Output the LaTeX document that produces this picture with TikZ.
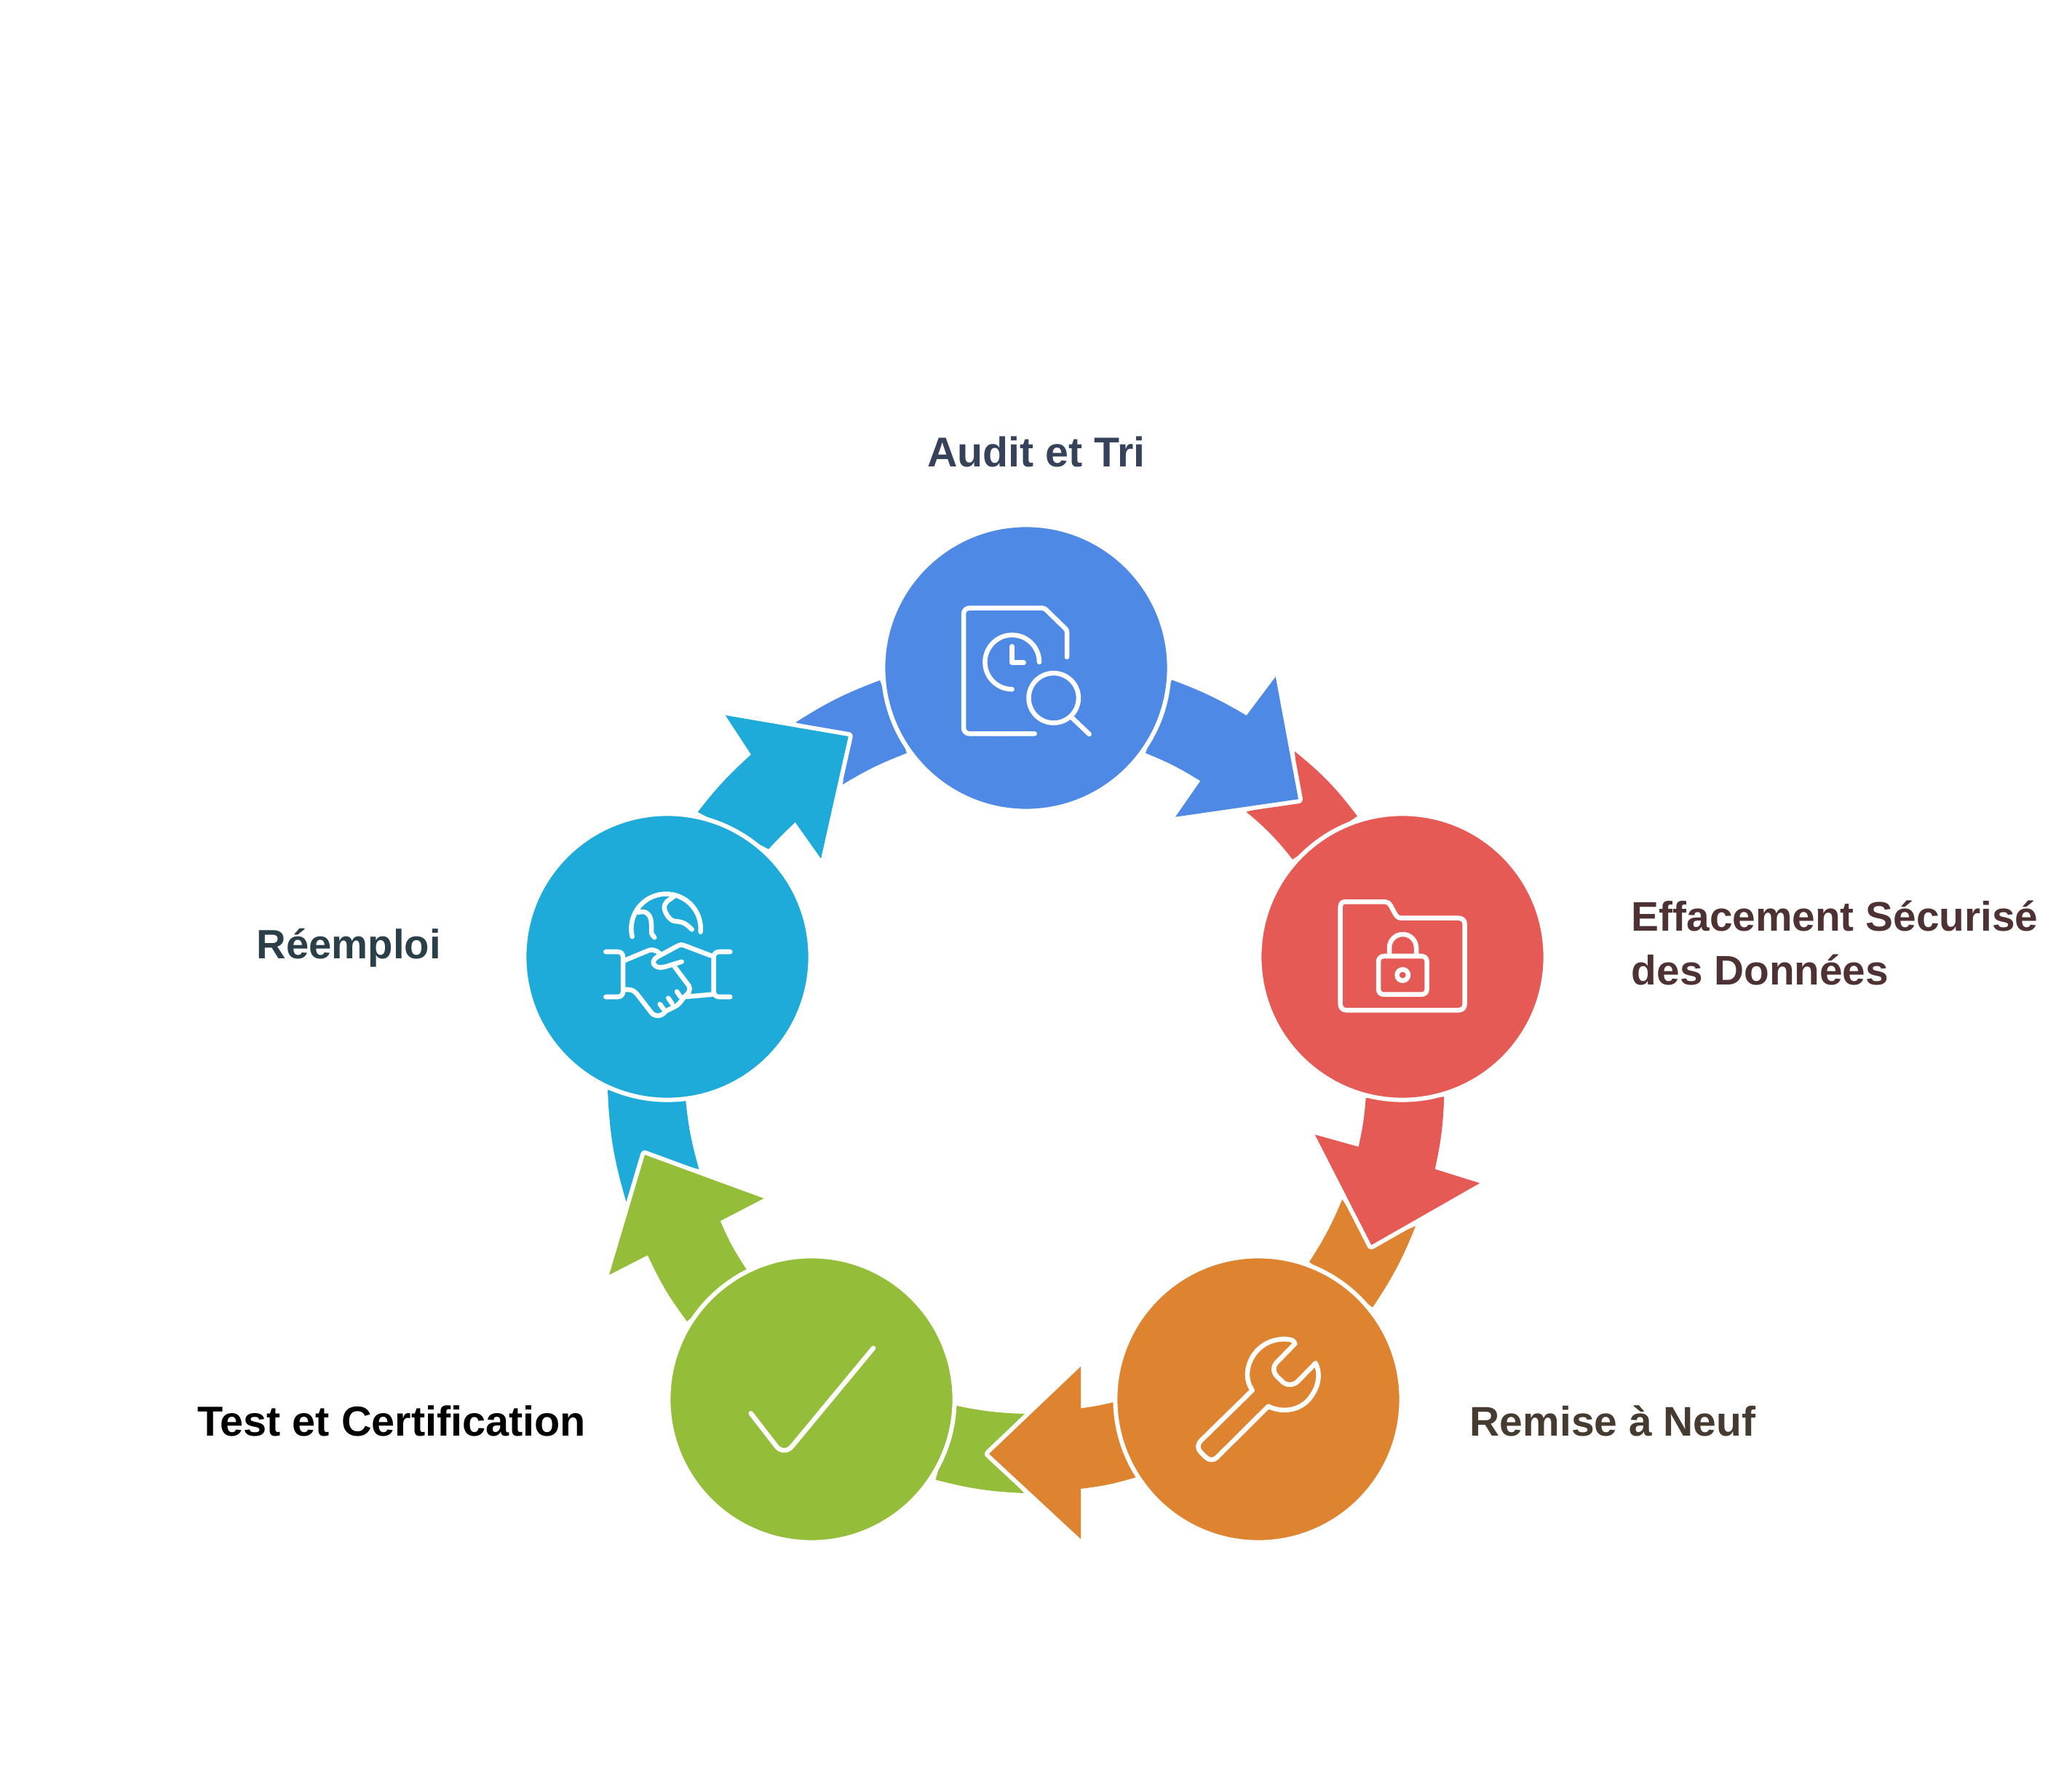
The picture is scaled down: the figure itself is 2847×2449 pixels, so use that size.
\documentclass[tikz,border=0pt]{standalone}
\usepackage{fontspec}
\setmainfont{Liberation Sans}
\definecolor{cblue}{HTML}{4F89E6}
\definecolor{cred}{HTML}{E65A55}
\definecolor{corange}{HTML}{DE8430}
\definecolor{cgreen}{HTML}{94BD3A}
\definecolor{ccyan}{HTML}{1FABDA}
\definecolor{tblue}{HTML}{36415A}
\definecolor{tred}{HTML}{4E3233}
\definecolor{torange}{HTML}{463B30}
\definecolor{tcyan}{HTML}{2B3F49}
\tikzset{
  disc/.style={circle,fill=#1,draw=white,line width=1.7pt,minimum size=3.93cm,inner sep=0pt},
  wedge/.style={fill=#1},
  arrowshape/.style={fill=#1,preaction={draw=white,line width=3.4pt,line join=round}},
  ic/.style={draw=white,line width=1.85pt,line cap=round,line join=round},
  lab/.style={inner sep=0pt,anchor=#1,align=left},
}
\newcommand{\labfont}[1]{\fontsize{#1}{20.8}\selectfont\bfseries}
\begin{document}
\begin{tikzpicture}[x=0.01cm,y=-0.01cm]
\useasboundingbox[fill=white] (0,0) rectangle (2847,2449);
% incoming wedges
\path[wedge=cred] (1779,1032.7) to[bend left=7] (1865,1121.7) -- (1776,1181) to[bend right=6] (1712.3,1115.7) -- (1784,1098) -- cycle;
\path[wedge=corange] (1945,1685) to[bend left=6] (1886,1796.7) -- (1799,1734.3) to[bend right=5] (1844.3,1648.3) -- (1884.3,1711) -- cycle;
\path[wedge=cgreen] (1407,2052) to[bend left=6] (1285.5,2033.6) -- (1314.6,1932) to[bend right=5] (1409,1943) -- (1359,1998) -- cycle;
\path[wedge=ccyan] (860.6,1652) to[bend left=7] (835,1498) -- (942,1511) to[bend right=5] (960.5,1607) -- (886,1587) -- cycle;
\path[wedge=cblue] (1093,993) to[bend left=6] (1209,935) -- (1246,1035) to[bend right=5] (1158,1078) -- (1165.7,1012) -- cycle;
% outgoing arrows
\path[arrowshape=cblue] (1610,934.3) to[bend left=5] (1712.7,983.3) -- (1752.7,930) -- (1784,1098.3) -- (1615,1122.7) -- (1649.3,1073.3) to[bend right=5] (1574,1035) -- cycle;
\path[arrowshape=cred] (1984.3,1507.3) to[bend left=5] (1971.7,1606.7) -- (2033.3,1626) -- (1884.3,1711) -- (1806.7,1559.3) -- (1866.7,1576) to[bend right=4] (1876.7,1509) -- cycle;
\path[arrowshape=corange] (1561.5,2030) to[bend left=5] (1485,2046) -- (1485,2115) -- (1359,1998) -- (1485,1878) -- (1485,1935.5) to[bend right=3] (1532,1926.5) -- cycle;
\path[arrowshape=cgreen] (944,1816) to[bend left=6] (890,1725) -- (837,1752) -- (886,1587) -- (1049.5,1647) -- (989.6,1678) to[bend right=5] (1026,1745) -- cycle;
\path[arrowshape=ccyan] (958.7,1116) to[bend left=5] (1032,1037) -- (996.7,983) -- (1165.7,1012) -- (1128,1180) -- (1092.7,1130) to[bend right=2] (1056,1167) -- cycle;
% discs
\node[disc=cblue] (audit) at (1410,918) {};
\node[disc=cred] (effacement) at (1927,1315) {};
\node[disc=corange] (remise) at (1729,1923) {};
\node[disc=cgreen] (test) at (1115,1923) {};
\node[disc=ccyan] (reemploi) at (917,1315) {};
% labels
\node[lab=center,text=tblue,font=\labfont{16.3}] (laudit) at (1424,621) {Audit et Tri};
\node[lab=west,text=tred,font=\labfont{16.15}] (leff) at (2241,1296) {Effacement Sécurisé\\des Données};
\node[lab=west,text=torange,font=\labfont{16.2}] (lrem) at (2019,1953) {Remise à Neuf};
\node[lab=west,text=black,font=\labfont{16.38}] (ltest) at (271,1953) {Test et Certification};
\node[lab=west,text=tcyan,font=\labfont{16}] (lree) at (352,1303) {Réemploi};
% document icon
\draw[ic] (1421.7,1008.3) -- (1332,1008.3) .. controls (1327.5,1008.3) and (1324,1005) .. (1324,1000) -- (1324,844) .. controls (1324,839) and (1327.5,835.7) .. (1332,835.7) -- (1433,835.7) .. controls (1434.5,835.7) and (1435.5,836.2) .. (1436.5,837.2) -- (1464,864) .. controls (1465.5,865.5) and (1466,867) .. (1466,869) -- (1466,903);
\draw[ic] (1428,910) arc[start angle=0,end angle=-270,radius=37.3];
\draw[ic] (1390.7,888.3) -- (1390.7,910.7) -- (1406.7,910.7);
\draw[ic] (1447.7,959.3) circle[radius=34.2];
\draw[ic] (1473.3,986.7) -- (1496.7,1009);
% folder and lock
\draw[ic] (1848,1239.3) -- (1903,1239.3) .. controls (1906,1239.3) and (1909,1241) .. (1910.5,1244) -- (1917,1256) .. controls (1919,1260) and (1922,1261.7) .. (1926,1261.7) -- (2004,1261.7) .. controls (2009,1261.7) and (2012.7,1265) .. (2012.7,1270) -- (2012.7,1380) .. controls (2012.7,1385) and (2009,1388.3) .. (2004,1388.3) -- (1850,1388.3) .. controls (1845,1388.3) and (1841.7,1385) .. (1841.7,1380) -- (1841.7,1247) .. controls (1841.7,1242) and (1844,1239.3) .. (1848,1239.3) -- cycle;
\draw[ic] (1902,1314) -- (1953,1314) .. controls (1957.5,1314) and (1960.7,1317) .. (1960.7,1322) -- (1960.7,1359) .. controls (1960.7,1364) and (1957.5,1366.7) .. (1953,1366.7) -- (1902,1366.7) .. controls (1897,1366.7) and (1894,1364) .. (1894,1359) -- (1894,1322) .. controls (1894,1317) and (1897,1314) .. (1902,1314) -- cycle;
\draw[ic] (1909,1314) -- (1909,1302.5) arc[start angle=180,end angle=360,radius=18.5] -- (1946,1314);
\draw[ic] (1927.3,1340) circle[radius=7.7];
% wrench
\draw[ic] (1720.7,1910.7) -- (1650.7,1979.3) .. controls (1645,1985) and (1645,1991) .. (1650,1996) -- (1656,2002) .. controls (1661,2007) and (1667,2007.5) .. (1671.7,2003.3) -- (1742.7,1932.7) .. controls (1764,1943) and (1790,1938) .. (1803,1917) .. controls (1813,1902) and (1814,1886) .. (1807.7,1873.3) -- (1783.3,1898.3) .. controls (1777,1904) and (1770,1904.5) .. (1763.3,1900) -- (1755,1892) .. controls (1749,1886) and (1749,1878) .. (1753.3,1873.3) -- (1779.3,1846.7) .. controls (1778,1843) and (1776,1841.5) .. (1772,1841) .. controls (1753,1838) and (1733,1846) .. (1722,1863) .. controls (1712,1879) and (1711,1896) .. (1720.7,1910.7) -- cycle;
% check mark
\draw[ic] (1031.7,1942.3) -- (1067,1988) .. controls (1073,1995) and (1082,1995) .. (1088,1988) -- (1200,1852.7);
% handshake with globe
\draw[ic] (868.7,1287.3) arc[start angle=-193.4,end angle=5.4,radius=47.7];
\draw[ic] (877.3,1254) .. controls (888,1250) and (895,1258) .. (895,1270) -- (895,1280) .. controls (895,1284) and (897,1286) .. (899.3,1288.3);
\draw[ic] (926,1232) .. controls (918,1238) and (912,1240) .. (913,1249) .. controls (914,1255) and (920,1265) .. (927,1266) .. controls (938,1267) and (941,1268) .. (950.7,1277.3);
\draw[ic] (832.3,1308) -- (849,1308) .. controls (853,1308) and (856,1311) .. (856,1315) -- (856,1363) .. controls (856,1367) and (853,1370) .. (849,1370) -- (832.3,1370);
\draw[ic] (1003.3,1308) -- (988,1308) .. controls (984,1308) and (980.7,1311) .. (980.7,1315) -- (980.7,1363) .. controls (980.7,1367) and (984,1370) .. (988,1370) -- (1003.3,1370);
\draw[ic] (858,1320) -- (891.7,1306) .. controls (896,1304.5) and (902,1306) .. (906,1310);
\draw[ic] (976.7,1313.3) -- (940,1299.3) .. controls (937,1298) and (935,1298) .. (932,1299.5) -- (903.3,1315) .. controls (897,1319) and (896,1324) .. (900,1327) .. controls (904,1330.5) and (909,1330) .. (915,1328.3) -- (936.7,1321.7);
\draw[ic] (926.7,1328.3) -- (946.7,1355) .. controls (949,1360) and (947,1365) .. (940,1370) -- (978.3,1366.7);
\draw[ic] (858,1360) -- (864,1360) .. controls (869,1360) and (873,1363) .. (876.7,1368) -- (895,1391.7) .. controls (899,1397) and (909,1398) .. (914,1390) -- (926,1384) .. controls (933,1381) and (936,1376) .. (940,1370);
\draw[ic] (906.7,1380) -- (911.7,1386.7);
\draw[ic] (918.3,1371.7) -- (923.3,1379);
\draw[ic] (930,1362.7) -- (935,1370);
\end{tikzpicture}
\end{document}
